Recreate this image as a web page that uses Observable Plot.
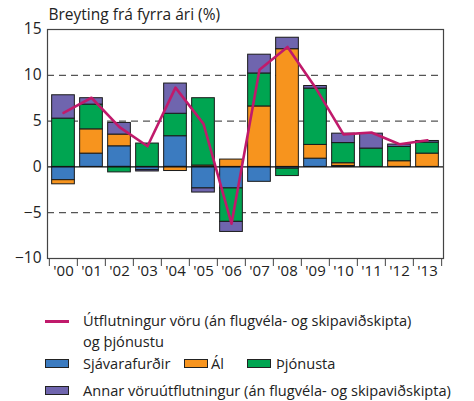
<!DOCTYPE html>
<html>
<head>
<meta charset="utf-8">
<script src="https://cdn.jsdelivr.net/npm/d3@7"></script>
<script src="https://cdn.jsdelivr.net/npm/@observablehq/plot@0.6"></script>
<style>
  body { margin: 0; background: #fff; }
  #wrap { position: relative; width: 474px; height: 401px; font-family: "Open Sans", sans-serif; color: #222; }
  #chart { position: absolute; left: 0; top: 0; }
  .lg { position: absolute; font-size: 14.6px; line-height: 16px; white-space: nowrap; }
  .sw { position: absolute; width: 22px; height: 7px; border: 1px solid #222; }
  .ln { position: absolute; width: 24px; height: 2.5px; }
</style>
</head>
<body>
<div id="wrap">
  <div id="chart"></div>
</div>
<script>
const years = ["'00","'01","'02","'03","'04","'05","'06","'07","'08","'09","'10","'11","'12","'13"];
const sjavarafurdir = [-1.45, 1.45, 2.25, -0.35, 3.35, -2.35, -2.35, -1.63, -0.2, 0.9, 0.1, 0, 0, 0];
const al            = [-0.45, 2.65, 1.28, 0, -0.45, 0.15, 0.8, 6.6, 12.85, 1.5, 0.3, 0, 0.62, 1.45];
const thjonusta     = [5.27, 2.7, -0.6, 2.55, 2.45, 7.35, -3.65, 3.6, -0.8, 6.15, 2.2, 2.0, 1.56, 1.2];
const annar         = [2.55, 0.7, 1.27, -0.15, 3.3, -0.45, -1.1, 2.05, 1.25, 0.28, 1.03, 1.63, 0.26, 0.18];
const utflutningur  = [5.9, 7.55, 4.35, 2.25, 8.65, 4.7, -6.2, 10.6, 13.1, 8.65, 3.55, 3.75, 2.47, 2.9];
const yTicks = [-10, -5, 0, 5, 10, 15];
const gridTicks = [-5, 5, 10];

const seriesNames = ["Sjávarafurðir", "Ál", "Þjónusta", "Annar vöruútflutningur (án flugvéla- og skipaviðskipta)"];
const seriesValues = [sjavarafurdir, al, thjonusta, annar];
const colors = ["#3b7bc0", "#f7941e", "#00a551", "#6f65ae"];
const lineColor = "#c01a6b";
const lineName = "Útflutningur vöru (án flugvéla- og skipaviðskipta)";
const lineName2 = "og þjónustu";

const bars = [];
seriesValues.forEach((vals, s) => vals.forEach((v, i) => {
  if (v !== 0) bars.push({year: years[i], series: seriesNames[s], value: v});
}));
const lineData = years.map((y, i) => ({year: y, value: utflutningur[i]}));

const W = 474, H = 290, mL = 47, mR = 31, mT = 29, mB = 32;
const step = (W - mL - mR) / years.length;

const plot = Plot.plot({
  width: W, height: H,
  marginLeft: mL, marginRight: mR, marginTop: mT, marginBottom: mB,
  style: {fontFamily: "Open Sans, sans-serif", fontSize: "14px", color: "#222", background: "#fff"},
  x: {domain: years, padding: 0, axis: null},
  y: {domain: [-10, 15], axis: null},
  color: {domain: seriesNames, range: colors},
  marks: [
    Plot.ruleY(gridTicks, {stroke: "#555", strokeWidth: 1.3, strokeDasharray: "7,5"}),
    Plot.barY(bars, Plot.stackY({x: "year", y: "value", fill: "series", order: null,
      stroke: "#1a1a1a", strokeWidth: 1, insetLeft: 2.65, insetRight: 2.65})),
    Plot.ruleY([0], {stroke: "#111", strokeWidth: 1.2}),
    Plot.frame({stroke: "#444", strokeWidth: 1.2}),
    Plot.line(lineData, {x: "year", y: "value", stroke: lineColor, strokeWidth: 2.6}),
    Plot.axisY({ticks: yTicks, tickSize: 0, tickPadding: 6, fontSize: 15.5, anchor: "left", label: null}),
    Plot.axisX({ticks: years, tickSize: 8, dx: -step / 2, tickFormat: () => "", label: null, stroke: "#444"}),
    Plot.axisX({ticks: [years[years.length - 1]], tickSize: 8, dx: step / 2, tickFormat: () => "", label: null, stroke: "#444"}),
    Plot.axisX({ticks: years, tickSize: 0, tickPadding: 7, fontSize: 15, label: null}),
    Plot.text(["Breyting frá fyrra ári (%)"], {frameAnchor: "top-left", dy: -21, dx: 1, textAnchor: "start", fontSize: 15.5})
  ]
});
document.getElementById("chart").appendChild(plot);

// Legend
const wrap = document.getElementById("wrap");
function add(html, cls, left, top, extra) {
  const el = document.createElement("div");
  el.className = cls;
  el.style.left = left + "px";
  el.style.top = top + "px";
  if (extra) Object.assign(el.style, extra);
  el.textContent = html;
  wrap.appendChild(el);
}
add("", "ln", 45, 320, {background: lineColor});
add(lineName, "lg", 83, 312);
add(lineName2, "lg", 83, 333);
add("", "sw", 45, 359, {background: colors[0]});
add(seriesNames[0], "lg", 83, 355);
add("", "sw", 184, 359, {background: colors[1]});
add(seriesNames[1], "lg", 211, 355);
add("", "sw", 247, 359, {background: colors[2]});
add(seriesNames[2], "lg", 276, 355);
add("", "sw", 45, 386, {background: colors[3]});
add(seriesNames[3], "lg", 83, 382);
</script>
</body>
</html>
